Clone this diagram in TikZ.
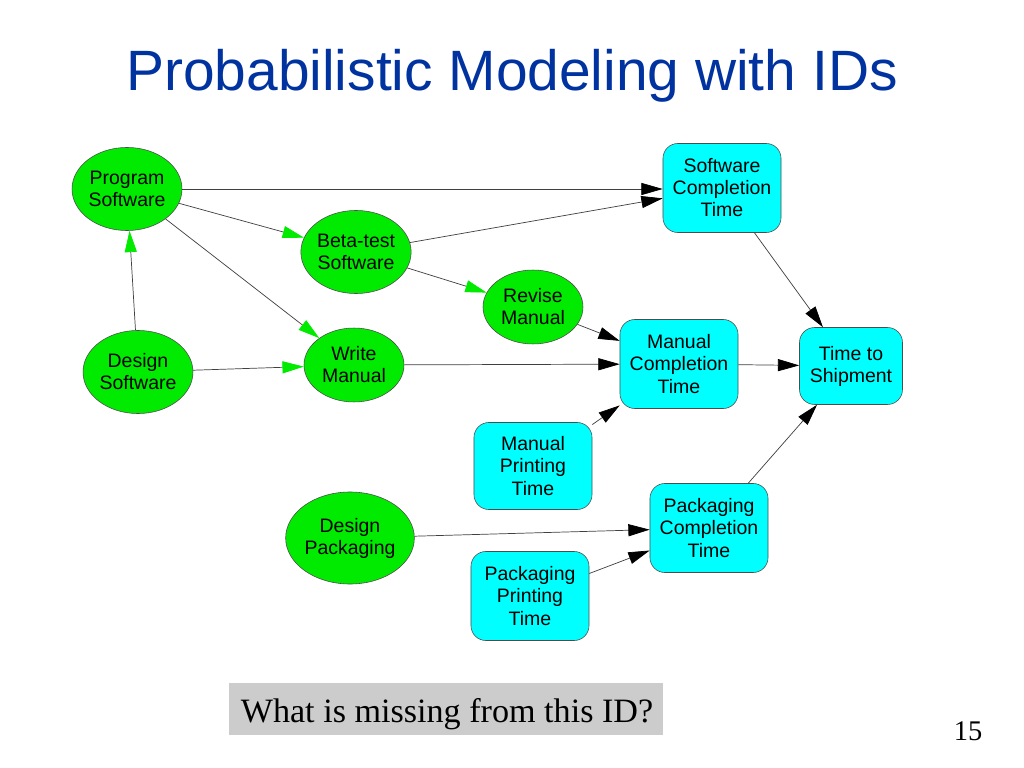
\documentclass[tikz,border=0pt]{standalone}
\usepackage{fontspec}
\setmainfont{Liberation Serif}
\setsansfont{Liberation Sans}
\usetikzlibrary{shapes.geometric,arrows.meta}
\definecolor{titleblue}{RGB}{0,51,160}
\definecolor{ngreen}{RGB}{0,235,0}
\definecolor{ncyan}{RGB}{0,255,255}
\definecolor{qgray}{RGB}{204,204,204}
\newcommand\ndfont{\sffamily\fontsize{13.7}{15.5}\selectfont}
\begin{document}
\begin{tikzpicture}[x=0.703125pt,y=-0.703125pt,
  chance/.style={ellipse, draw=black!70, line width=0.4pt, fill=ngreen, inner sep=0pt, align=center, font=\ndfont},
  bigell/.style={chance, minimum width=77.3pt, minimum height=58.4pt},
  smallell/.style={chance, minimum width=70.3pt, minimum height=52pt},
  timebox/.style={rectangle, rounded corners=10.5pt, draw=black!70, line width=0.4pt, fill=ncyan, minimum width=83pt, minimum height=62.6pt, inner sep=0pt, align=center, font=\ndfont},
  edge/.style={draw=black!75, line width=0.5pt, -{Triangle[length=15pt,width=8.5pt,color=black]}},
  gedge/.style={draw=black!75, line width=0.5pt, -{Triangle[length=15pt,width=8.5pt,color=ngreen]}}]
\fill[white] (0,0) rectangle (1024,768);
\useasboundingbox (0,0) rectangle (1024,768);
% title
\node[anchor=base, text=titleblue, font=\sffamily\fontsize{40}{48}\selectfont, inner sep=0pt] (title) at (512,91) {Probabilistic Modeling with IDs};
% decision/chance nodes (green)
\node[bigell] (prog) at (127,189) {Program\\Software};
\node[bigell] (beta) at (356,252) {Beta-test\\Software};
\node[bigell] (dsw) at (138,372) {Design\\Software};
\node[smallell] (write) at (354,365) {Write\\Manual};
\node[smallell] (revise) at (533,307) {Revise\\Manual};
\node[chance, minimum width=85.8pt, minimum height=64.7pt] (dpkg) at (350,538) {Design\\Packaging};
% time nodes (cyan)
\node[timebox] (swct) at (722,188) {Software\\Completion\\Time};
\node[timebox] (mct) at (679,364) {Manual\\Completion\\Time};
\node[timebox, minimum width=72.4pt, minimum height=54.1pt] (tts) at (851,366) {Time to\\Shipment};
\node[timebox, minimum height=61.2pt] (mpt) at (533,466) {Manual\\Printing\\Time};
\node[timebox] (pct) at (709,528) {Packaging\\Completion\\Time};
\node[timebox] (ppt) at (530,596) {Packaging\\Printing\\Time};
% edges
\draw[edge] (prog.east |- 0,189) -- (swct.west |- 0,189);
\draw[gedge] (prog) -- (beta);
\draw[gedge] (prog) -- (write);
\draw[gedge] (dsw) -- (prog);
\draw[gedge] (dsw) -- (write);
\draw[edge] (beta) -- (swct);
\draw[gedge] (beta) -- (revise);
\draw[edge] (revise) -- (mct);
\draw[edge] (write) -- (mct);
\draw[edge] (mpt) -- (mct);
\draw[edge] (swct) -- (tts);
\draw[edge] (mct) -- (tts);
\draw[edge] (pct) -- (tts);
\draw[edge] (dpkg) -- (pct);
\draw[edge] (ppt) -- (pct);
% question box
\node[fill=qgray, minimum width=304.5pt, minimum height=36.6pt, inner sep=0pt] (qbox) at (446,709) {};
\node[anchor=base, font=\fontsize{24}{28}\selectfont, inner sep=0pt] (qtext) at (447,722) {What is missing from this ID?};
\node[anchor=base, font=\fontsize{20}{24}\selectfont, inner sep=0pt] (pnum) at (968,740) {15};
\end{tikzpicture}
\end{document}
